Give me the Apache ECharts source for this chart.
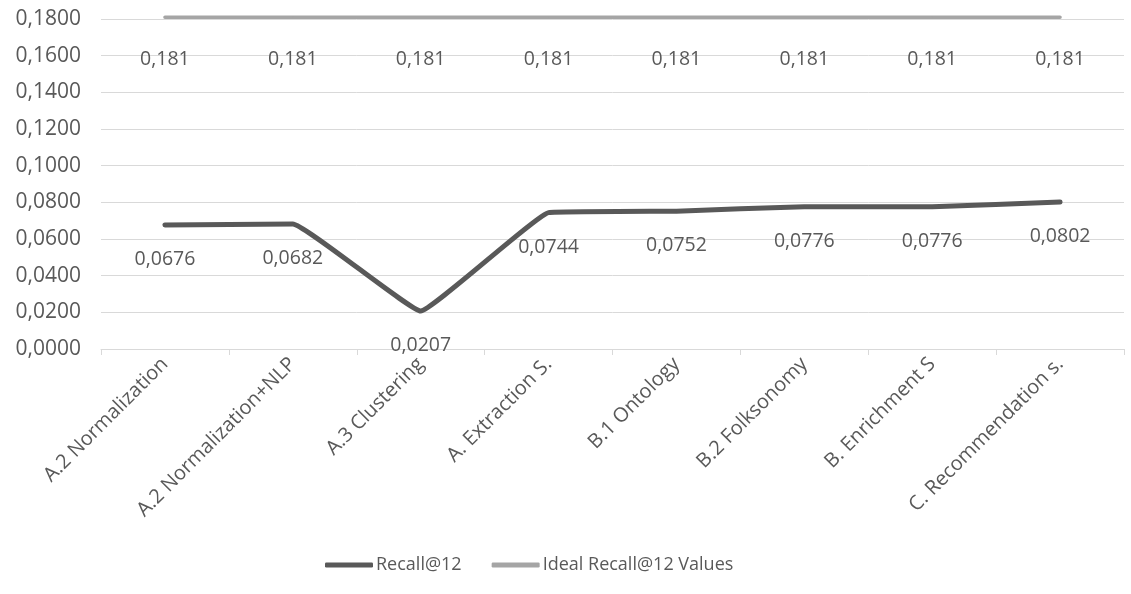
<!DOCTYPE html>
<html>
<head>
<meta charset="utf-8">
<script src="https://cdn.jsdelivr.net/npm/echarts@6/dist/echarts.min.js"></script>
<style>
  html, body { margin: 0; padding: 0; background: #ffffff; }
  #chart { width: 1131px; height: 594px; }
</style>
</head>
<body>
<div id="chart"></div>
<script>
// Recall@12 per pipeline stage, against the ideal value
const categories = [
  'A.2 Normalization', 'A.2 Normalization+NLP', 'A.3 Clustering', 'A. Extraction S.',
  'B.1 Ontology', 'B.2 Folksonomy', 'B. Enrichment S', 'C. Recommendation s.'
];
const recallValues = [0.0676, 0.0682, 0.0207, 0.0744, 0.0752, 0.0776, 0.0776, 0.0802];
const idealValues = [0.181, 0.181, 0.181, 0.181, 0.181, 0.181, 0.181, 0.181];
const seriesNames = ['Recall@12', 'Ideal Recall@12 Values'];

const FONT = '"Open Sans", "Noto Sans", sans-serif';
const TEXT = '#595959';
const comma = (v, d) => v.toFixed(d).replace('.', ',');

const chart = echarts.init(document.getElementById('chart'), null, { renderer: 'canvas' });
chart.setOption({
  animation: false,
  backgroundColor: '#ffffff',
  textStyle: { fontFamily: FONT },
  grid: { left: 101, right: 7, top: 19, bottom: 245, containLabel: false },
  legend: {
    bottom: 15,
    left: 320,
    itemGap: 30,
    itemWidth: 48,
    itemHeight: 5,
    icon: 'roundRect',
    textStyle: { color: TEXT, fontSize: 18, fontFamily: FONT, padding: [0, 0, 0, -2] },
    data: seriesNames
  },
  xAxis: {
    type: 'category',
    data: categories,
    boundaryGap: true,
    axisLine: { lineStyle: { color: '#d9d9d9', width: 1 } },
    axisTick: { show: true, alignWithLabel: false, length: 6, lineStyle: { color: '#d9d9d9' } },
    axisLabel: { rotate: 45, color: TEXT, fontSize: 20, fontFamily: FONT, margin: 12, interval: 0 }
  },
  yAxis: {
    type: 'value',
    min: 0,
    max: 0.18,
    interval: 0.02,
    axisLine: { show: false },
    axisTick: { show: false },
    splitLine: { lineStyle: { color: '#d9d9d9', width: 1 } },
    axisLabel: { color: TEXT, fontSize: 21, fontFamily: FONT, margin: 20, formatter: v => comma(v, 4) }
  },
  series: [
    {
      name: seriesNames[0],
      type: 'line',
      data: recallValues,
      smooth: 0.08,
      symbol: 'circle',
      symbolSize: 1,
      showSymbol: true,
      clip: false,
      lineStyle: { color: '#595959', width: 5, cap: 'round', join: 'round' },
      itemStyle: { color: '#595959' },
      label: {
        show: true,
        position: 'bottom',
        distance: 24,
        color: TEXT,
        fontSize: 19.5,
        fontFamily: FONT,
        formatter: p => comma(p.value, 4)
      },
      z: 3
    },
    {
      name: seriesNames[1],
      type: 'line',
      data: idealValues,
      symbol: 'circle',
      symbolSize: 1,
      showSymbol: true,
      clip: false,
      lineStyle: { color: '#a5a5a5', width: 3.5, cap: 'round' },
      itemStyle: { color: '#a5a5a5' },
      label: {
        show: true,
        position: 'bottom',
        distance: 32,
        color: TEXT,
        fontSize: 19.5,
        fontFamily: FONT,
        formatter: p => comma(p.value, 3)
      },
      z: 2
    }
  ]
});
</script>
</body>
</html>
